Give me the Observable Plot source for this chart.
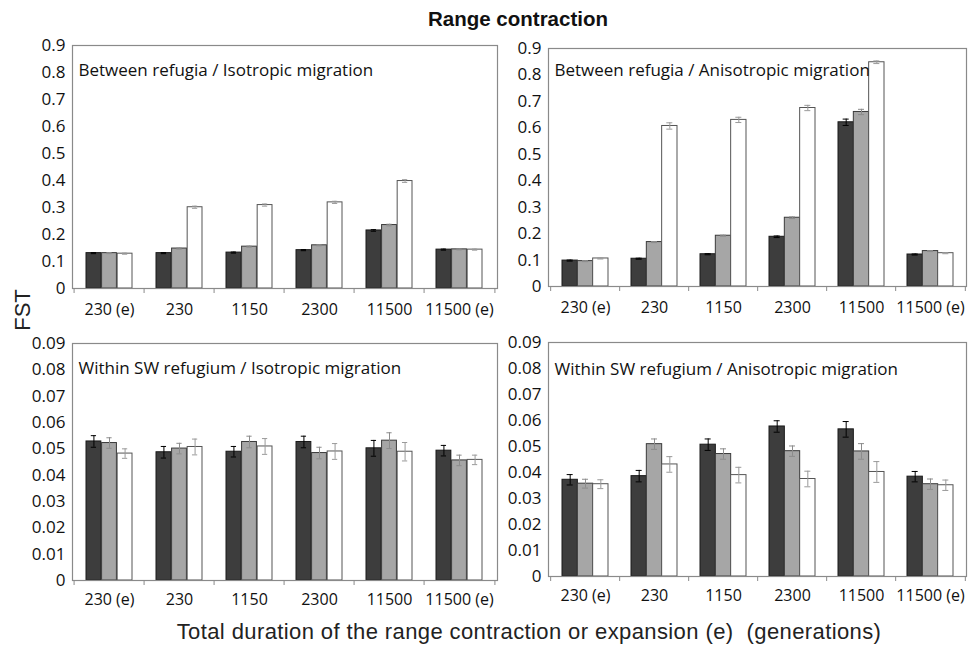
<!DOCTYPE html>
<html>
<head>
<meta charset="utf-8">
<script src="https://cdn.jsdelivr.net/npm/d3@7"></script>
<script src="https://cdn.jsdelivr.net/npm/@observablehq/plot@0.6"></script>
<style>
  html, body { margin: 0; padding: 0; background: #fff; }
  #wrap { position: relative; width: 975px; height: 645px; overflow: hidden; background: #fff; }
  .panel { position: absolute; }
  .panel svg { overflow: visible; }
  #title { position: absolute; left: 418px; width: 200px; top: 6px; text-align: center; line-height: 26px;
    font-family: "Liberation Sans", Arial, sans-serif; font-weight: bold; font-size: 20.5px; color: #111; white-space: nowrap; }
  #xtitle { position: absolute; left: 0; width: 1058px; top: 619px; text-align: center; line-height: 26px;
    font-family: "Liberation Sans", Arial, sans-serif; font-size: 22px; letter-spacing: 0.4px; color: #222; white-space: nowrap; }
  #ytitle { position: absolute; left: 23px; top: 310px; transform: translate(-50%, -50%) rotate(-90deg);
    font-family: "Liberation Sans", Arial, sans-serif; font-size: 22px; color: #222; white-space: nowrap; }
</style>
</head>
<body>
<div id="wrap">
  <div id="title">Range contraction</div>
  <div id="ytitle">FST</div>
  <div id="xtitle">Total duration of the range contraction or expansion (e)&nbsp; (generations)</div>
</div>
<script>
// ---------- data ----------
const categories = ["230 (e)", "230", "1150", "2300", "11500", "11500 (e)"];
const seriesNames = ["dark", "grey", "white"];

const topTicks = [0, 0.1, 0.2, 0.3, 0.4, 0.5, 0.6, 0.7, 0.8, 0.9];
const bottomTicks = [0, 0.01, 0.02, 0.03, 0.04, 0.05, 0.06, 0.07, 0.08, 0.09];

const panelTitles = [
  "Between refugia / Isotropic migration",
  "Between refugia / Anisotropic migration",
  "Within SW refugium / Isotropic migration",
  "Within SW refugium / Anisotropic migration"
];

// Between refugia / Isotropic
const betweenIsoDark  = [0.131, 0.131, 0.133, 0.142, 0.215, 0.144];
const betweenIsoGrey  = [0.131, 0.148, 0.155, 0.160, 0.235, 0.145];
const betweenIsoWhite = [0.129, 0.301, 0.309, 0.319, 0.398, 0.144];
const betweenIsoErr   = [[0.002, 0.002, 0.002, 0.002, 0.003, 0.002],
                         [0.002, 0.002, 0.002, 0.002, 0.003, 0.002],
                         [0.002, 0.004, 0.004, 0.004, 0.005, 0.002]];

// Between refugia / Anisotropic
const betweenAniDark  = [0.098, 0.105, 0.122, 0.188, 0.621, 0.121];
const betweenAniGrey  = [0.096, 0.168, 0.192, 0.260, 0.660, 0.134];
const betweenAniWhite = [0.106, 0.607, 0.630, 0.675, 0.848, 0.126];
const betweenAniErr   = [[0.002, 0.002, 0.002, 0.003, 0.012, 0.002],
                         [0.002, 0.002, 0.002, 0.003, 0.010, 0.002],
                         [0.002, 0.012, 0.010, 0.010, 0.005, 0.002]];

// Within SW refugium / Isotropic
const withinIsoDark  = [0.0528, 0.0487, 0.0489, 0.0526, 0.0502, 0.0493];
const withinIsoGrey  = [0.0522, 0.0501, 0.0526, 0.0484, 0.0531, 0.0456];
const withinIsoWhite = [0.0482, 0.0507, 0.0509, 0.0490, 0.0489, 0.0458];
const withinIsoErr   = [[0.0022, 0.0022, 0.0020, 0.0022, 0.0030, 0.0020],
                        [0.0020, 0.0020, 0.0022, 0.0022, 0.0030, 0.0020],
                        [0.0018, 0.0030, 0.0030, 0.0030, 0.0035, 0.0018]];

// Within SW refugium / Anisotropic
const withinAniDark  = [0.0372, 0.0386, 0.0507, 0.0577, 0.0566, 0.0384];
const withinAniGrey  = [0.0357, 0.0509, 0.0471, 0.0482, 0.0481, 0.0355];
const withinAniWhite = [0.0355, 0.0431, 0.0390, 0.0375, 0.0402, 0.0351];
const withinAniErr   = [[0.0020, 0.0022, 0.0022, 0.0022, 0.0030, 0.0020],
                        [0.0017, 0.0020, 0.0020, 0.0020, 0.0030, 0.0020],
                        [0.0017, 0.0030, 0.0030, 0.0030, 0.0040, 0.0020]];

// ---------- styles ----------
const fills   = ["#3d3d3d", "#a6a6a6", "#ffffff"];
const strokes = ["#1a1a1a", "#3a3a3a", "#555555"];
const errColors = ["#000000", "#8c8c8c", "#9a9a9a"];

function buildRows(means, errs) {
  const rows = [];
  means.forEach((arr, s) => arr.forEach((v, i) => rows.push({
    cat: categories[i], series: seriesNames[s], s, value: v, err: errs[s][i]
  })));
  return rows;
}

function panel({means, errs, ticks, title, left, top, width, height, ml, mr, mt, mb, titleDy, fmt, xPad}) {
  const rows = buildRows(means, errs);
  const innerW = width - ml - mr;
  const step = innerW / categories.length;
  const bw = step * 0.66;
  const barW = bw / 3;
  const capW = 6;
  const marks = [];
  for (let s = 0; s < 3; s++) {
    const d = rows.filter(r => r.s === s);
    const dx = (s - 1) * barW;
    marks.push(Plot.barY(d, {x: "cat", y: "value", fill: fills[s], stroke: strokes[s], strokeWidth: 1,
      insetLeft: barW, insetRight: barW, dx}));
  }
  for (let s = 0; s < 3; s++) {
    const d = rows.filter(r => r.s === s);
    const dx = (s - 1) * barW;
    marks.push(Plot.ruleX(d, {x: "cat", y1: r => r.value - r.err, y2: r => r.value + r.err,
      stroke: errColors[s], strokeWidth: 1, dx}));
    marks.push(Plot.tickY(d, {x: "cat", y: r => r.value - r.err, stroke: errColors[s], strokeWidth: 1,
      insetLeft: (bw - capW) / 2, insetRight: (bw - capW) / 2, dx}));
    marks.push(Plot.tickY(d, {x: "cat", y: r => r.value + r.err, stroke: errColors[s], strokeWidth: 1,
      insetLeft: (bw - capW) / 2, insetRight: (bw - capW) / 2, dx}));
  }
  marks.push(Plot.frame({stroke: "#8a8a8a", strokeWidth: 1.2}));
  marks.push(Plot.axisX({tickSize: 0, tickPadding: xPad, fontSize: 16, fill: "#111"}));
  marks.push(Plot.axisX({tickSize: 5, tickFormat: () => "", dx: -step / 2, stroke: "#8a8a8a"}));
  marks.push(Plot.axisX({ticks: [categories[categories.length - 1]], tickSize: 5, tickFormat: () => "", dx: step / 2, stroke: "#8a8a8a"}));
  marks.push(Plot.axisY({ticks, tickSize: 0, tickPadding: 7, fontSize: 17, fill: "#111", tickFormat: fmt}));
  marks.push(Plot.text([title], {text: d => d, frameAnchor: "top-left", dx: 6, dy: titleDy,
    fontSize: 17, fill: "#111", textAnchor: "start"}));

  const chart = Plot.plot({
    width, height, marginLeft: ml, marginRight: mr, marginTop: mt, marginBottom: mb,
    style: {fontFamily: "'Open Sans', sans-serif", fontSize: "16px", background: "transparent", overflow: "visible"},
    x: {domain: categories, paddingInner: 0.34, paddingOuter: 0.17, label: null, axis: null},
    y: {domain: [0, ticks[ticks.length - 1]], label: null, axis: null},
    marks
  });
  const div = document.createElement("div");
  div.className = "panel";
  div.style.left = left + "px";
  div.style.top = top + "px";
  div.appendChild(chart);
  document.getElementById("wrap").appendChild(div);
}

const fmtTop = d => String(+d.toFixed(1));
const fmtBottom = d => String(+d.toFixed(2));

panel({means: [betweenIsoDark, betweenIsoGrey, betweenIsoWhite], errs: betweenIsoErr, ticks: topTicks,
  title: panelTitles[0], left: 0, top: 0, width: 500, height: 320, ml: 72, mr: 3, mt: 45, mb: 32, titleDy: 18, fmt: fmtTop, xPad: 15});
panel({means: [betweenAniDark, betweenAniGrey, betweenAniWhite], errs: betweenAniErr, ticks: topTicks,
  title: panelTitles[1], left: 500, top: 0, width: 475, height: 320, ml: 48, mr: 9, mt: 48, mb: 34, titleDy: 15, fmt: fmtTop, xPad: 15});
panel({means: [withinIsoDark, withinIsoGrey, withinIsoWhite], errs: withinIsoErr, ticks: bottomTicks,
  title: panelTitles[2], left: 0, top: 320, width: 500, height: 300, ml: 72, mr: 3, mt: 23, mb: 40, titleDy: 18, fmt: fmtBottom, xPad: 13});
panel({means: [withinAniDark, withinAniGrey, withinAniWhite], errs: withinAniErr, ticks: bottomTicks,
  title: panelTitles[3], left: 500, top: 320, width: 475, height: 300, ml: 48, mr: 9, mt: 22, mb: 44, titleDy: 20, fmt: fmtBottom, xPad: 13});
</script>
</body>
</html>
